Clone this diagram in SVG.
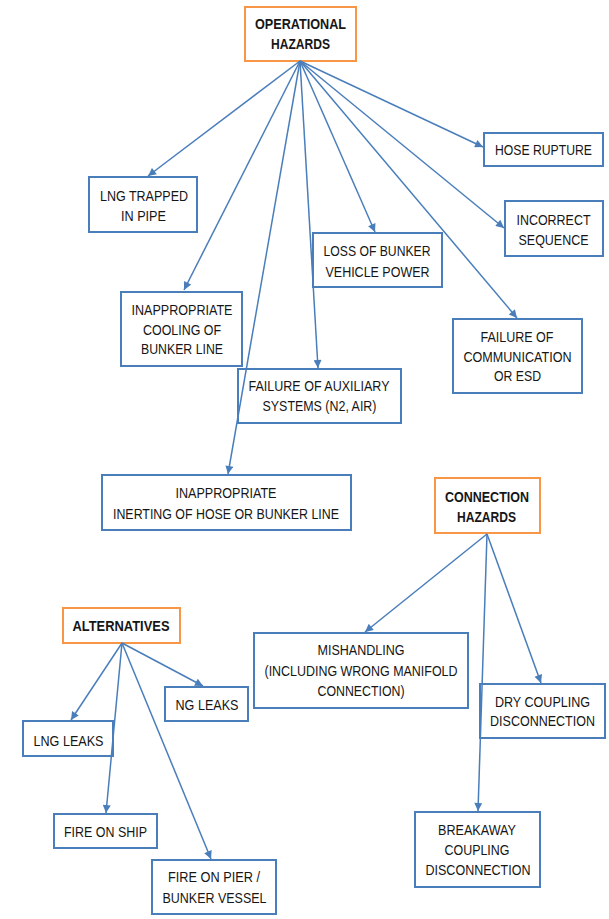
<svg xmlns="http://www.w3.org/2000/svg" width="609" height="919" viewBox="0 0 609 919">
<style>
.bg{fill:#ffffff}
.box{fill:#ffffff;stroke:#4a7ebb;stroke-width:2}
.hz{fill:#ffffff;stroke:#f79646;stroke-width:2}
.t{font-family:"Liberation Sans",Arial,sans-serif;font-size:15.5px;fill:#161616;text-anchor:middle}
.b{font-weight:bold}
.c{fill:none;stroke:#4a7ebb;stroke-width:1.5;marker-end:url(#ah)}
</style>
<defs>
<marker id="ah" viewBox="0 0 10 10" refX="10" refY="5" markerUnits="userSpaceOnUse" markerWidth="10" markerHeight="8" orient="auto">
<path d="M0,0 L10,5 L0,10 z" fill="#4a7ebb"/>
</marker>
</defs>
<rect class="bg" x="0" y="0" width="609" height="919"/>
<g id="operational-hazards">
<rect class="hz" x="245" y="7" width="111" height="54"/>
<text class="t b" x="300.5" y="28.5" textLength="91" lengthAdjust="spacingAndGlyphs">OPERATIONAL</text>
<text class="t b" x="300.5" y="48.5" textLength="59" lengthAdjust="spacingAndGlyphs">HAZARDS</text>
</g>
<g id="hose-rupture">
<rect class="box" x="484" y="133" width="119" height="33"/>
<text class="t" transform="translate(543.5,154.5) scale(0.85,1)" x="0" y="0" textLength="114" lengthAdjust="spacingAndGlyphs">HOSE RUPTURE</text>
</g>
<g id="lng-trapped">
<rect class="box" x="89" y="177" width="108" height="55"/>
<text class="t" x="144" y="200.5" textLength="88" lengthAdjust="spacingAndGlyphs">LNG TRAPPED</text>
<text class="t" x="143.5" y="220.5" textLength="45" lengthAdjust="spacingAndGlyphs">IN PIPE</text>
</g>
<g id="incorrect-sequence">
<rect class="box" x="505" y="201" width="98" height="55"/>
<text class="t" x="553.5" y="224.5" textLength="74" lengthAdjust="spacingAndGlyphs">INCORRECT</text>
<text class="t" x="553.5" y="244.5" textLength="70" lengthAdjust="spacingAndGlyphs">SEQUENCE</text>
</g>
<g id="loss-of-bunker-vehicle-power">
<rect class="box" x="313" y="233" width="129" height="54"/>
<text class="t" x="377" y="255.5" textLength="107" lengthAdjust="spacingAndGlyphs">LOSS OF BUNKER</text>
<text class="t" x="377.5" y="276.5" textLength="104" lengthAdjust="spacingAndGlyphs">VEHICLE POWER</text>
</g>
<g id="inappropriate-cooling">
<rect class="box" x="121" y="292" width="121" height="74"/>
<text class="t" x="182" y="314.5" textLength="101" lengthAdjust="spacingAndGlyphs">INAPPROPRIATE</text>
<text class="t" x="182" y="334.5" textLength="78" lengthAdjust="spacingAndGlyphs">COOLING OF</text>
<text class="t" x="182" y="353.5" textLength="82" lengthAdjust="spacingAndGlyphs">BUNKER LINE</text>
</g>
<g id="failure-of-auxiliary-systems">
<rect class="box" x="238" y="369" width="163" height="54"/>
<text class="t" x="319" y="390.5" textLength="141" lengthAdjust="spacingAndGlyphs">FAILURE OF AUXILIARY</text>
<text class="t" x="319.5" y="410.5" textLength="114" lengthAdjust="spacingAndGlyphs">SYSTEMS (N2, AIR)</text>
</g>
<g id="failure-of-communication">
<rect class="box" x="453" y="319" width="129" height="74"/>
<text class="t" x="517" y="341.5" textLength="73" lengthAdjust="spacingAndGlyphs">FAILURE OF</text>
<text class="t" x="517.5" y="361.5" textLength="108" lengthAdjust="spacingAndGlyphs">COMMUNICATION</text>
<text class="t" x="517.5" y="380.5" textLength="47" lengthAdjust="spacingAndGlyphs">OR ESD</text>
</g>
<g id="inappropriate-inerting">
<rect class="box" x="102" y="475" width="249" height="55"/>
<text class="t" x="226" y="497.5" textLength="101" lengthAdjust="spacingAndGlyphs">INAPPROPRIATE</text>
<text class="t" x="226" y="518.5" textLength="226" lengthAdjust="spacingAndGlyphs">INERTING OF HOSE OR BUNKER LINE</text>
</g>
<g id="connection-hazards">
<rect class="hz" x="435" y="478" width="105" height="55"/>
<text class="t b" x="487" y="501.5" textLength="84" lengthAdjust="spacingAndGlyphs">CONNECTION</text>
<text class="t b" x="486.5" y="521.5" textLength="59" lengthAdjust="spacingAndGlyphs">HAZARDS</text>
</g>
<g id="alternatives">
<rect class="hz" x="63" y="608" width="117" height="35"/>
<text class="t b" x="121" y="630.5" textLength="97" lengthAdjust="spacingAndGlyphs">ALTERNATIVES</text>
</g>
<g id="mishandling">
<rect class="box" x="254" y="633" width="214" height="75"/>
<text class="t" x="361" y="654.5" textLength="87" lengthAdjust="spacingAndGlyphs">MISHANDLING</text>
<text class="t" x="361" y="675.5" textLength="193" lengthAdjust="spacingAndGlyphs">(INCLUDING WRONG MANIFOLD</text>
<text class="t" x="361" y="695.5" textLength="87" lengthAdjust="spacingAndGlyphs">CONNECTION)</text>
</g>
<g id="dry-coupling-disconnection">
<rect class="box" x="480" y="684" width="125" height="54"/>
<text class="t" transform="translate(542.5,706.5) scale(0.85,1)" x="0" y="0" textLength="112" lengthAdjust="spacingAndGlyphs">DRY COUPLING</text>
<text class="t" transform="translate(542.5,725.5) scale(0.85,1)" x="0" y="0" textLength="123.5" lengthAdjust="spacingAndGlyphs">DISCONNECTION</text>
</g>
<g id="breakaway-coupling-disconnection">
<rect class="box" x="415" y="812" width="125" height="75"/>
<text class="t" x="477" y="834.5" textLength="78" lengthAdjust="spacingAndGlyphs">BREAKAWAY</text>
<text class="t" x="477" y="854.5" textLength="65" lengthAdjust="spacingAndGlyphs">COUPLING</text>
<text class="t" x="478" y="874.5" textLength="105" lengthAdjust="spacingAndGlyphs">DISCONNECTION</text>
</g>
<g id="ng-leaks">
<rect class="box" x="165" y="687" width="83" height="34"/>
<text class="t" x="207" y="709.5" textLength="63" lengthAdjust="spacingAndGlyphs">NG LEAKS</text>
</g>
<g id="lng-leaks">
<rect class="box" x="23" y="721" width="90" height="35"/>
<text class="t" x="68.5" y="745.5" textLength="70" lengthAdjust="spacingAndGlyphs">LNG LEAKS</text>
</g>
<g id="fire-on-ship">
<rect class="box" x="54" y="814" width="103" height="34"/>
<text class="t" x="105.5" y="836.5" textLength="83" lengthAdjust="spacingAndGlyphs">FIRE ON SHIP</text>
</g>
<g id="fire-on-pier">
<rect class="box" x="152" y="860" width="124" height="54"/>
<text class="t" x="214" y="881.5" textLength="92" lengthAdjust="spacingAndGlyphs">FIRE ON PIER /</text>
<text class="t" x="214.5" y="902.5" textLength="104" lengthAdjust="spacingAndGlyphs">BUNKER VESSEL</text>
</g>
<g id="connectors">
<line class="c" x1="300" y1="61" x2="148" y2="176"/>
<line class="c" x1="300" y1="61" x2="184" y2="290"/>
<line class="c" x1="300" y1="61" x2="228" y2="474"/>
<line class="c" x1="300" y1="61" x2="318" y2="368"/>
<line class="c" x1="300" y1="61" x2="375" y2="232"/>
<line class="c" x1="300" y1="61" x2="517" y2="318"/>
<line class="c" x1="300" y1="61" x2="504" y2="228"/>
<line class="c" x1="300" y1="61" x2="483" y2="147"/>
<line class="c" x1="487" y1="534" x2="365" y2="632"/>
<line class="c" x1="487" y1="534" x2="478" y2="811"/>
<line class="c" x1="487" y1="534" x2="541" y2="683"/>
<line class="c" x1="122" y1="643" x2="71" y2="720"/>
<line class="c" x1="122" y1="643" x2="106" y2="813"/>
<line class="c" x1="122" y1="643" x2="211" y2="859"/>
<line class="c" x1="122" y1="643" x2="203" y2="686"/>
</g>
</svg>
